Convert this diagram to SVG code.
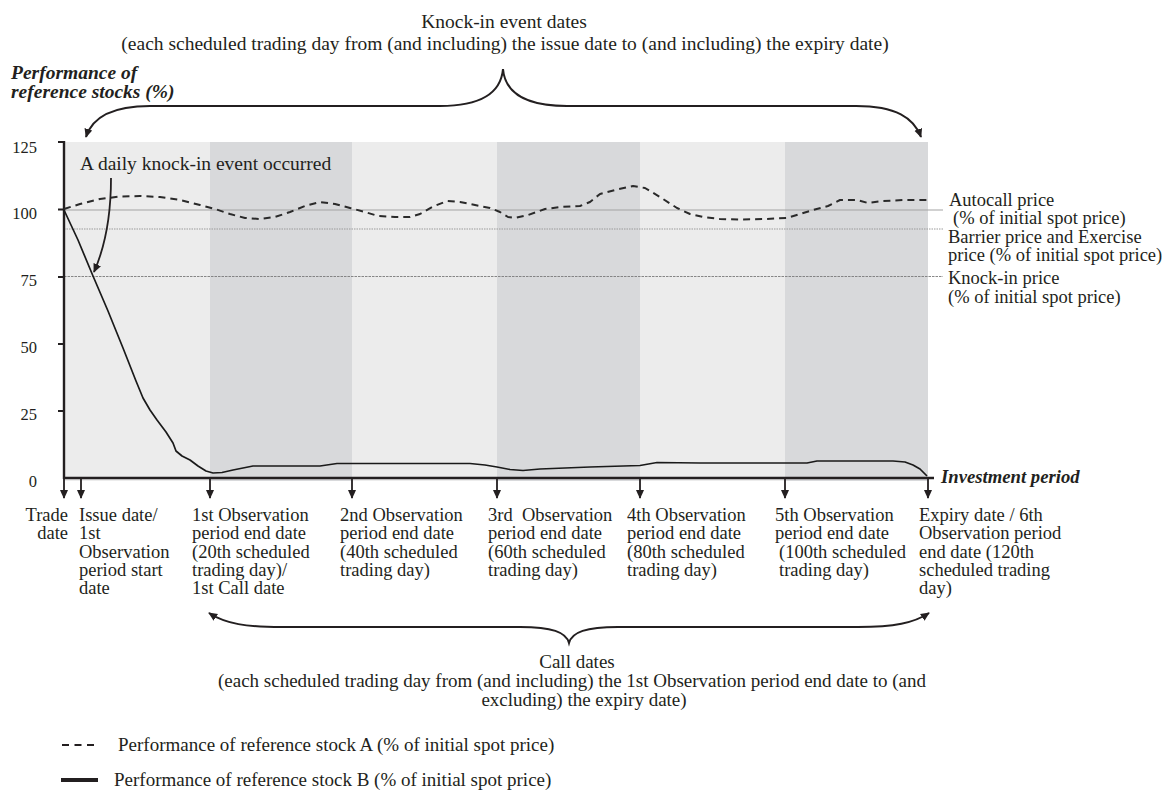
<svg xmlns="http://www.w3.org/2000/svg" width="1174" height="790" viewBox="0 0 1174 790">
<style>
text{font-family:"Liberation Serif","Times New Roman",serif;fill:#231f20;font-size:18.5px}
.t{font-size:19.5px}
.cd{font-size:19px}
.bi{font-weight:bold;font-style:italic;font-size:19.5px}
.ip{font-weight:bold;font-style:italic;font-size:18.7px}
.yl{font-size:16.5px;text-anchor:end}
.lg{font-size:19px}
.c{text-anchor:middle}
.ax{stroke:#231f20;stroke-width:2.4;fill:none}
.arr{stroke:#231f20;stroke-width:1.8;fill:none;marker-end:url(#ah)}
.brace{stroke:#231f20;stroke-width:2;fill:none;marker-start:url(#ahs);marker-end:url(#ah)}
.sa{stroke:#2a2a2a;stroke-width:2;fill:none;stroke-dasharray:7 5;stroke-linejoin:round}
.sb{stroke:#1a1a1a;stroke-width:1.7;fill:none;stroke-linejoin:round}
.lt{fill:#ececec}.dk{fill:#d8d9db}
</style>
<defs>
<marker id="ah" viewBox="0 0 10 10" refX="9" refY="5" markerWidth="9" markerHeight="9" markerUnits="userSpaceOnUse" orient="auto"><path d="M0,0.5 L10,5 L0,9.5 z" fill="#231f20"/></marker>
<marker id="ahs" viewBox="0 0 10 10" refX="1" refY="5" markerWidth="9" markerHeight="9" markerUnits="userSpaceOnUse" orient="auto"><path d="M10,0.5 L0,5 L10,9.5 z" fill="#231f20"/></marker>
</defs>

<g id="title">
<text class="t c" x="504" y="28">Knock-in event dates</text>
<text class="t c" x="505" y="50">(each scheduled trading day from (and including) the issue date to (and including) the expiry date)</text>
</g>
<g id="ytitle">
<text class="bi" x="11" y="79">Performance of</text>
<text class="bi" x="11" y="98">reference stocks (%)</text>
</g>

<g id="plot">
<rect class="lt" x="64" y="142" width="146" height="339"/>
<rect class="dk" x="210" y="142" width="142" height="339"/>
<rect class="lt" x="352" y="142" width="145" height="339"/>
<rect class="dk" x="497" y="142" width="143" height="339"/>
<rect class="lt" x="640" y="142" width="145" height="339"/>
<rect class="dk" x="785" y="142" width="143" height="339"/>
<line x1="64" y1="210" x2="943" y2="210" stroke="#a3a3a3" stroke-width="1"/>
<line x1="64" y1="229" x2="943" y2="229" stroke="#9a9a9a" stroke-width="1" stroke-dasharray="1.5 1"/>
<line x1="64" y1="276.5" x2="943" y2="276.5" stroke="#7a7a7a" stroke-width="0.9" stroke-dasharray="2.5 1"/>
</g>

<g id="yaxis">
<line class="ax" x1="64" y1="141" x2="64" y2="479"/>
<g stroke="#231f20" stroke-width="2">
<line x1="58" y1="142" x2="64" y2="142"/>
<line x1="58" y1="209.5" x2="64" y2="209.5"/>
<line x1="58" y1="277" x2="64" y2="277"/>
<line x1="58" y1="344" x2="64" y2="344"/>
<line x1="58" y1="411" x2="64" y2="411"/>
</g>
<text class="yl" x="37" y="153">125</text>
<text class="yl" x="37" y="219">100</text>
<text class="yl" x="37" y="286">75</text>
<text class="yl" x="37" y="353">50</text>
<text class="yl" x="37" y="420">25</text>
<text class="yl" x="37" y="487">0</text>
</g>

<g id="series">
<polyline class="sa" points="64,209 80,204 100,199 120,196.5 140,196 160,197 180,200 200,205 215,209 230,214 245,218 260,219 275,217 290,212 305,206 320,202 335,204 350,208 365,212 378,216 395,217 410,217 420,214 432,207 447,201 460,202 475,205 490,208 500,212 508,217 515,218 528,215 545,209 560,207 580,206 590,202 600,194 615,190 633,186 645,188 660,197 677,208 690,214 703,217 720,219 740,219.5 765,219 787,218 800,214 813,210 828,206 840,200 857,200 868,203 883,201 905,200 928,200"/>
<polyline class="sb" points="64,210 78,240 93,276 108,311 123,348 136,381 143,398 150,410 157,420 166,432 173,443 176,451 182,456 190,460 198,466 206,471 213,473 222,472.5 233,470 243,468 253,466 320,466 337,463.5 470,463.5 485,465 497,467 510,469.5 523,470.5 540,469 590,467 640,465.5 657,462.5 700,463 807,463 817,461 893,461 905,462 913,465 920,469 927,476"/>
</g>

<g id="xaxis">
<line class="ax" x1="63" y1="478" x2="934" y2="478"/>
<text class="ip" x="941" y="483">Investment period</text>
</g>

<g id="connectors">
<path class="brace" d="M86,137 C92,118 110,106 150,106 L440,106 C482,106 501,92 503,69 C505,92 524,106 567,106 L856,106 C896,106 914,118 921,137"/>
<path class="brace" d="M209,613 C226,624 246,627 282,627 L520,627 C552,627 566,632 569,643 C572,632 586,627 618,627 L858,627 C894,627 914,623 929,613"/>
<path class="arr" d="M111,178 C111,205 108,240 94,272"/>
<line class="arr" x1="64" y1="479" x2="64" y2="498"/>
<line class="arr" x1="81" y1="479" x2="81" y2="498"/>
<line class="arr" x1="210" y1="479" x2="210" y2="498"/>
<line class="arr" x1="352" y1="479" x2="352" y2="498"/>
<line class="arr" x1="497" y1="479" x2="497" y2="498"/>
<line class="arr" x1="640" y1="479" x2="640" y2="498"/>
<line class="arr" x1="785" y1="479" x2="785" y2="498"/>
<line class="arr" x1="928" y1="479" x2="928" y2="498"/>
</g>

<g id="knockin-note">
<text class="t" x="80" y="170">A daily knock-in event occurred</text>
</g>

<g id="right-labels">
<text x="949" y="206">Autocall price</text>
<text x="953" y="224">(% of initial spot price)</text>
<text x="948" y="243">Barrier price and Exercise</text>
<text x="948" y="261">price (% of initial spot price)</text>
<text x="948" y="284">Knock-in price</text>
<text x="948" y="303">(% of initial spot price)</text>
</g>

<g id="date-trade">
<text x="68" y="521" text-anchor="end">Trade</text>
<text x="68" y="539" text-anchor="end">date</text>
</g>
<g id="date-issue">
<text x="79" y="521">Issue date/</text>
<text x="79" y="539">1st</text>
<text x="79" y="557.5">Observation</text>
<text x="79" y="576">period start</text>
<text x="79" y="594">date</text>
</g>
<g id="date-obs1">
<text x="192" y="521">1st Observation</text>
<text x="192" y="539">period end date</text>
<text x="192" y="557.5">(20th scheduled</text>
<text x="192" y="576">trading day)/</text>
<text x="192" y="594">1st Call date</text>
</g>
<g id="date-obs2">
<text x="340" y="521">2nd Observation</text>
<text x="340" y="539">period end date</text>
<text x="340" y="557.5">(40th scheduled</text>
<text x="340" y="576">trading day)</text>
</g>
<g id="date-obs3">
<text x="488" y="521" xml:space="preserve">3rd  Observation</text>
<text x="488" y="539">period end date</text>
<text x="488" y="557.5">(60th scheduled</text>
<text x="488" y="576">trading day)</text>
</g>
<g id="date-obs4">
<text x="627" y="521">4th Observation</text>
<text x="627" y="539">period end date</text>
<text x="627" y="557.5">(80th scheduled</text>
<text x="627" y="576">trading day)</text>
</g>
<g id="date-obs5">
<text x="775" y="521">5th Observation</text>
<text x="775" y="539">period end date</text>
<text x="779" y="557.5">(100th scheduled</text>
<text x="779" y="576">trading day)</text>
</g>
<g id="date-expiry">
<text x="919" y="521">Expiry date / 6th</text>
<text x="919" y="539">Observation period</text>
<text x="919" y="557.5">end date (120th</text>
<text x="919" y="576">scheduled trading</text>
<text x="919" y="594">day)</text>
</g>

<g id="call-dates">
<text class="cd c" x="577" y="668">Call dates</text>
<text class="cd c" x="572" y="687">(each scheduled trading day from (and including) the 1st Observation period end date to (and</text>
<text class="cd c" x="584" y="706">excluding) the expiry date)</text>
</g>

<g id="legend">
<line x1="62" y1="745" x2="98" y2="745" stroke="#231f20" stroke-width="2" stroke-dasharray="7 5.5"/>
<text class="lg" x="118" y="751">Performance of reference stock A (% of initial spot price)</text>
<line x1="61" y1="780" x2="98" y2="780" stroke="#231f20" stroke-width="4"/>
<text class="lg" x="114" y="786">Performance of reference stock B (% of initial spot price)</text>
</g>
</svg>
